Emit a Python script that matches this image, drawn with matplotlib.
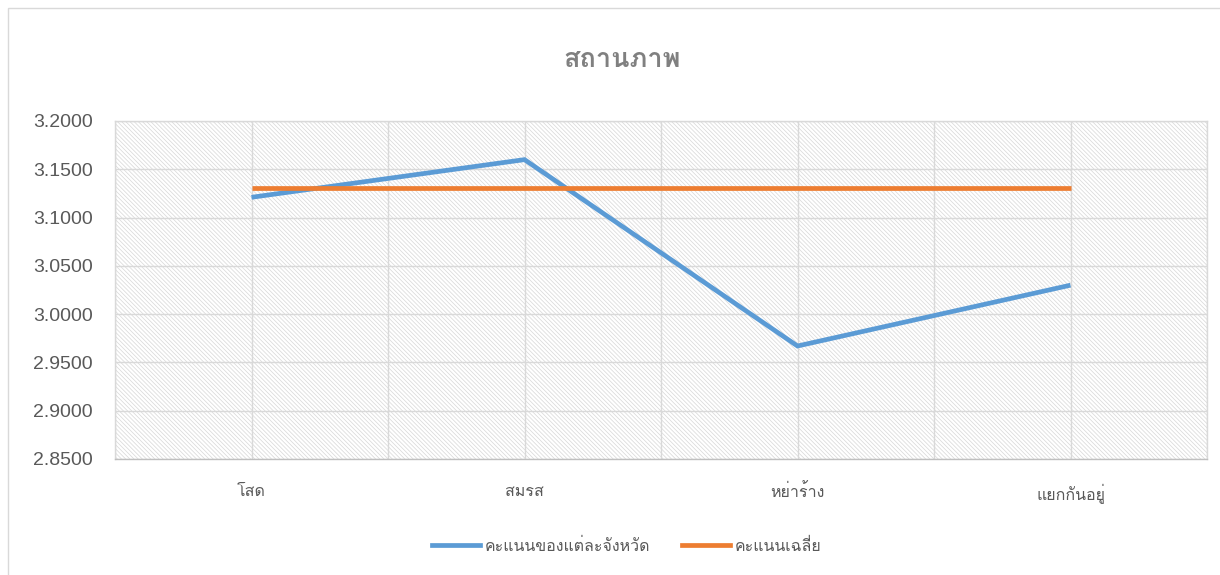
import matplotlib
matplotlib.use("Agg")
import matplotlib.pyplot as plt
from matplotlib import font_manager as fm
from matplotlib.ft2font import FT2Font
from matplotlib.patches import Rectangle
from matplotlib.lines import Line2D

# ---- data ----
title = "สถานภาพ"
categories = ["โสด", "สมรส", "หย่าร้าง", "แยกกันอยู่"]
province_scores = [3.121, 3.160, 2.967, 3.030]
average_scores = [3.131, 3.131, 3.131, 3.131]
series_names = ["คะแนนของแต่ละจังหวัด", "คะแนนเฉลี่ย"]
y_ticks = [2.85, 2.90, 2.95, 3.00, 3.05, 3.10, 3.15, 3.20]


def find_thai_font():
    preferred = []
    others = []
    for f in fm.fontManager.ttflist:
        try:
            cm = FT2Font(f.fname).get_charmap()
        except Exception:
            continue
        if 0x0E2A in cm and 0x0E14 in cm and 0x0E48 in cm:
            if "Thai" in f.name or "Sarabun" in f.name or "Loma" in f.name:
                preferred.append(f.name)
            else:
                others.append(f.name)
    for lst in (preferred, others):
        if lst:
            return lst[0]
    return None


thai = find_thai_font()
fams = ([thai] if thai else []) + ["DejaVu Sans"]
plt.rcParams["font.family"] = fams
plt.rcParams["hatch.linewidth"] = 0.55

GRID = "#D9D9D9"
TXT = "#595959"
BLUE = "#5B9BD5"
ORANGE = "#ED7D31"

fig = plt.figure(figsize=(12.2, 5.75), dpi=100)
fig.patch.set_facecolor("white")

# outer chart border
fig.add_artist(Rectangle((8 / 1220, -0.05), 1.2, 1 - 8 / 575 + 0.05,
                         transform=fig.transFigure, fill=False,
                         edgecolor=GRID, linewidth=1.0))

ax = fig.add_axes([115 / 1220, 1 - 459 / 575, (1207 - 115) / 1220, (459 - 121) / 575])
ax.set_facecolor("white")
bg = Rectangle((0, 0), 1, 1, transform=ax.transAxes, facecolor="white",
               edgecolor="#DADADA", linewidth=0, hatch="\\" * 8, zorder=0)
ax.add_patch(bg)

x = list(range(len(categories)))
ax.plot(x, province_scores, color=BLUE, linewidth=3.4, zorder=3,
        solid_joinstyle="miter", solid_capstyle="butt")
ax.plot(x, average_scores, color=ORANGE, linewidth=3.4, zorder=3,
        solid_capstyle="butt")

ax.set_xlim(-0.5, len(categories) - 0.5)
ax.set_ylim(y_ticks[0], y_ticks[-1])
ax.set_yticks(y_ticks)
ax.set_yticklabels([f"{v:.4f}" for v in y_ticks], fontsize=14, color=TXT,
                   family=["Liberation Sans", "DejaVu Sans"])
ax.set_xticks(x)
ax.set_xticklabels(categories, fontsize=11.5, color=TXT)
ax.set_xticks([i - 0.5 for i in range(len(categories) + 1)], minor=True)
ax.tick_params(axis="both", which="both", length=0)
ax.tick_params(axis="y", pad=16)
ax.tick_params(axis="x", pad=18)
ax.grid(True, which="both", color=GRID, linewidth=1.0, zorder=1)
ax.set_axisbelow(True)
for s in ax.spines.values():
    s.set_color(GRID)
    s.set_linewidth(1.0)
ax.spines["bottom"].set_color("#BFBFBF")

fig.text(0.51, 1 - 60 / 575, title, ha="center", va="center",
         fontsize=19.5, fontweight="bold", color="#808080")

handles = [Line2D([], [], color=BLUE, linewidth=3.4),
           Line2D([], [], color=ORANGE, linewidth=3.4)]
fig.legend(handles, series_names, loc="center", bbox_to_anchor=(0.514, 1 - 547 / 575),
           ncol=2, frameon=False, fontsize=11.5, labelcolor=TXT,
           handlelength=3.0, handletextpad=0.3, columnspacing=2.0)

fig.savefig("out.png", dpi=100)
